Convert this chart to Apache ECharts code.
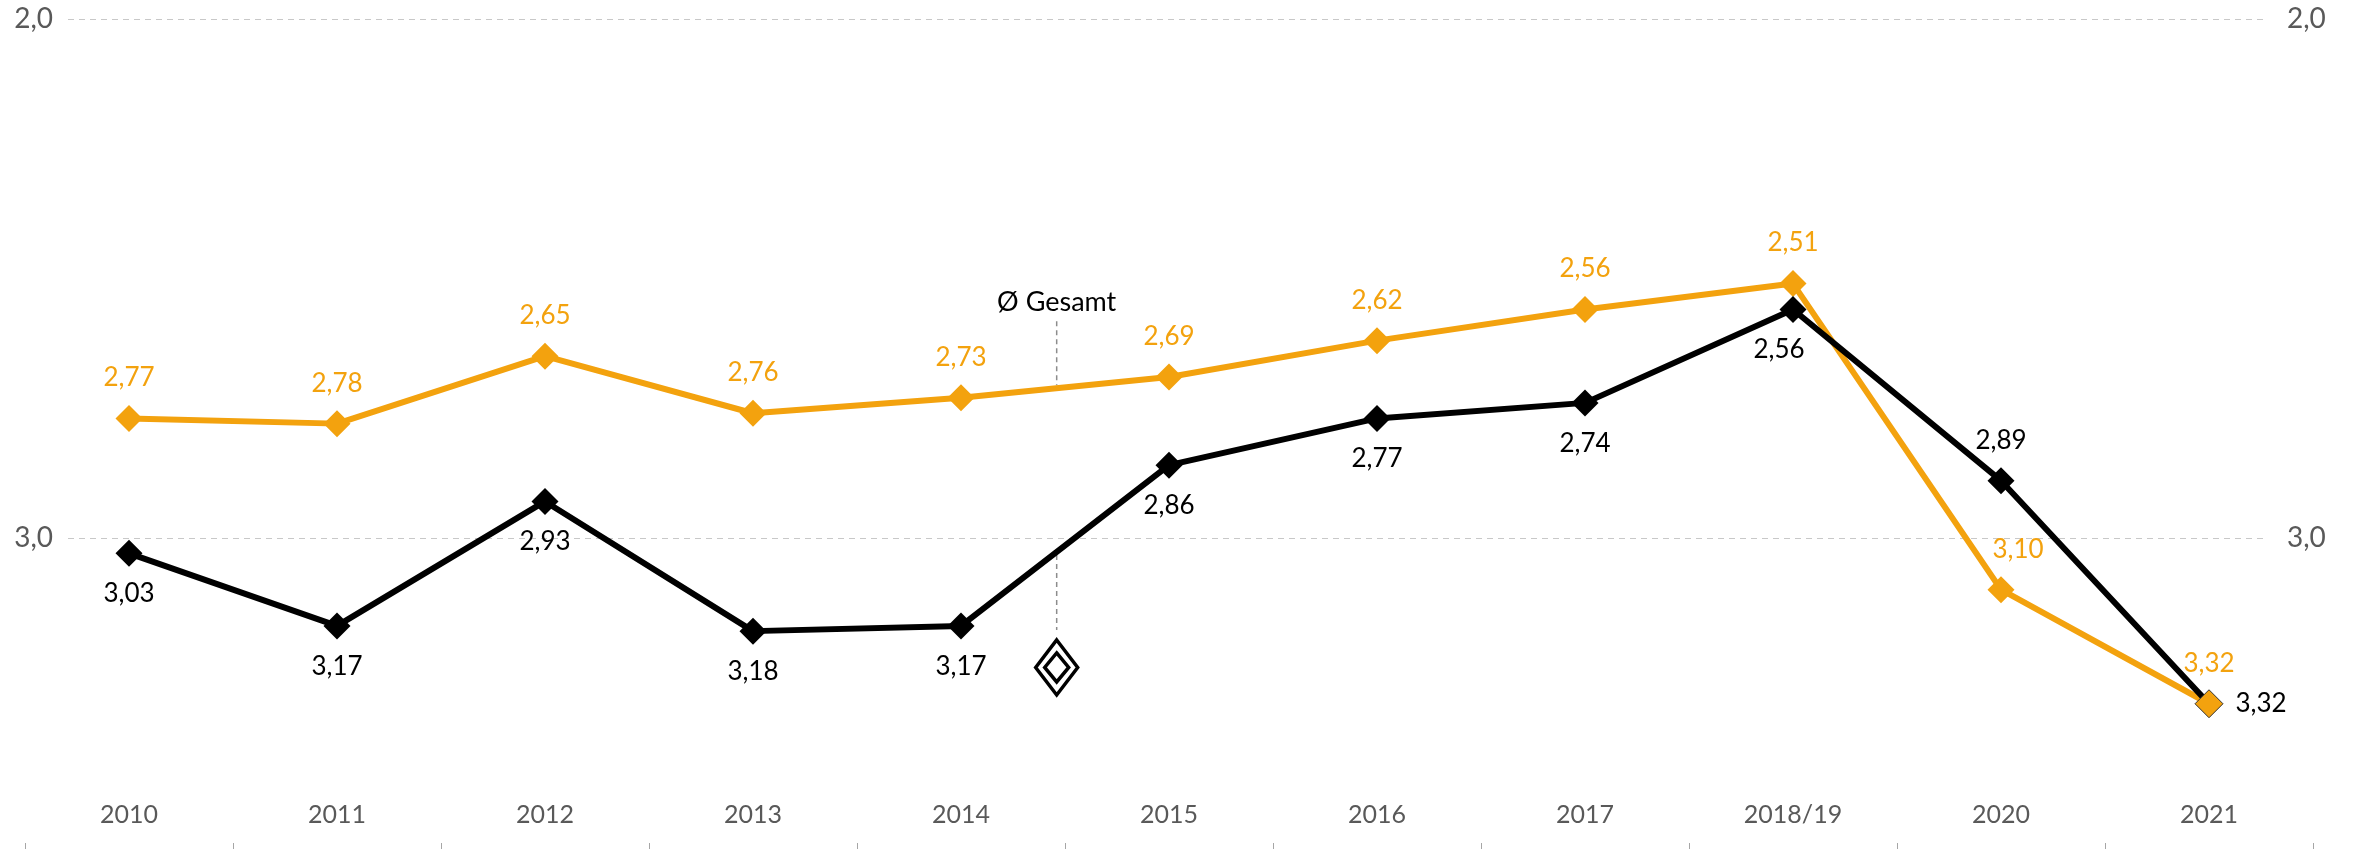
<!DOCTYPE html>
<html>
<head>
<meta charset="utf-8">
<script src="https://cdn.jsdelivr.net/npm/echarts@6/dist/echarts.min.js"></script>
<style>
  html, body { margin: 0; padding: 0; background: #fff; }
  #chart { width: 2361px; height: 850px; }
</style>
</head>
<body>
<div id="chart"></div>
<script>
// School grades (lower is better), shown on an inverted scale
const years = ['2010', '2011', '2012', '2013', '2014', '2015', '2016', '2017', '2018/19', '2020', '2021'];
const gesamt = [2.77, 2.78, 2.65, 2.76, 2.73, 2.69, 2.62, 2.56, 2.51, 3.10, 3.32];
const renault = [3.03, 3.17, 2.93, 3.18, 3.17, 2.86, 2.77, 2.74, 2.56, 2.89, 3.32];
const yTicks = [2, 3];

const ORANGE = '#F3A20E';
const FONT = 'Lato, "Open Sans", sans-serif';
const fmt = v => v.toFixed(2).replace('.', ',');

const chart = echarts.init(document.getElementById('chart'), null, { renderer: 'canvas' });

// per-point label placement for the black series
const renaultData = renault.map((v, i) => {
  const d = { value: v };
  if (years[i] === '2018/19') d.label = { offset: [-14, 0] };
  if (years[i] === '2020') d.label = { position: 'top' };
  if (years[i] === '2021') d.label = { position: 'right', distance: 13 };
  return d;
});
const gesamtData = gesamt.map((v, i) => {
  const d = { value: v };
  if (years[i] === '2020') d.label = { offset: [17, 0] };
  return d;
});
// last orange marker sits above the black line end
const gesamtLast = gesamt.map((v, i) => (i === gesamt.length - 1 ? v : null));

const yLabel = v => (yTicks.indexOf(v) >= 0 ? v.toFixed(1).replace('.', ',') : '');

chart.setOption({
  animation: false,
  backgroundColor: '#ffffff',
  grid: [
    { left: 25, right: 48, top: 19, bottom: 1 },
    { left: 68, right: 93, top: 19, bottom: 1 }
  ],
  xAxis: [
    {
      type: 'category', gridIndex: 0, data: years, boundaryGap: true,
      axisLine: { show: false },
      axisTick: { show: true, inside: true, length: 6, lineStyle: { color: '#a6a6a6', width: 1 } },
      axisLabel: { inside: true, margin: 22, color: '#595959', fontSize: 25, fontFamily: FONT },
      splitLine: { show: false }
    },
    { type: 'value', gridIndex: 1, show: false, min: 0, max: 1 }
  ],
  yAxis: [
    { type: 'value', gridIndex: 0, min: 2, max: 3.6, inverse: true, show: false },
    {
      type: 'value', gridIndex: 1, position: 'left', min: 2, max: 3.6, interval: 1, inverse: true,
      axisLine: { show: false }, axisTick: { show: false },
      axisLabel: { margin: 15, color: '#595959', fontSize: 28, fontFamily: FONT, formatter: yLabel, showMaxLabel: false },
      splitLine: { show: true, showMaxLine: false, lineStyle: { color: '#c8c8c8', type: [6, 5], width: 1 } }
    },
    {
      type: 'value', gridIndex: 1, position: 'right', min: 2, max: 3.6, interval: 1, inverse: true,
      axisLine: { show: false }, axisTick: { show: false },
      axisLabel: { margin: 19, color: '#595959', fontSize: 28, fontFamily: FONT, formatter: yLabel, showMaxLabel: false },
      splitLine: { show: false }
    }
  ],
  series: [
    {
      name: 'Ø Gesamt', type: 'line', xAxisIndex: 0, yAxisIndex: 0, z: 2,
      data: gesamtData,
      symbol: 'diamond', symbolSize: 27,
      lineStyle: { color: ORANGE, width: 6 },
      itemStyle: { color: ORANGE },
      label: { show: true, position: 'top', distance: 14, color: ORANGE, fontSize: 26, fontFamily: FONT, formatter: p => fmt(p.value) }
    },
    {
      name: 'Renault', type: 'line', xAxisIndex: 0, yAxisIndex: 0, z: 3,
      data: renaultData,
      symbol: 'diamond', symbolSize: 27,
      lineStyle: { color: '#000000', width: 6 },
      itemStyle: { color: '#000000' },
      label: { show: true, position: 'bottom', distance: 14, color: '#000000', fontSize: 26, fontFamily: FONT, formatter: p => fmt(p.value) }
    },
    {
      name: 'Ø Gesamt 2021', type: 'scatter', xAxisIndex: 0, yAxisIndex: 0, z: 4,
      data: gesamtLast,
      symbol: 'diamond', symbolSize: 28,
      itemStyle: { color: ORANGE, opacity: 1, borderColor: '#3a3a3a', borderWidth: 1 },
      label: { show: false }
    }
  ]
});

// series annotations: "Ø Gesamt" caption and the brand mark, each tied to its line
function annotate() {
  const f = 0.46;
  const a0 = chart.convertToPixel({ gridIndex: 0 }, [4, gesamt[4]]);
  const a1 = chart.convertToPixel({ gridIndex: 0 }, [5, gesamt[5]]);
  const b0 = chart.convertToPixel({ gridIndex: 0 }, [4, renault[4]]);
  const b1 = chart.convertToPixel({ gridIndex: 0 }, [5, renault[5]]);
  const x = a0[0] + (a1[0] - a0[0]) * f;
  const yO = a0[1] + (a1[1] - a0[1]) * f;
  const yB = b0[1] + (b1[1] - b0[1]) * f;

  const dash = { stroke: '#8c8c8c', lineWidth: 1.5, lineDash: [5, 4] };
  const top = yO - 67;
  const logoTop = yB + 88;
  const logoH = 55, logoW = 42;
  const cy = logoTop + logoH / 2;

  chart.setOption({
    graphic: [
      { type: 'text', x: x, y: top - 19, style: { text: 'Ø Gesamt', fill: '#000', font: '27px ' + FONT, textAlign: 'center', textVerticalAlign: 'middle' } },
      { type: 'line', shape: { x1: x, y1: top, x2: x, y2: yO - 3 }, style: dash, z: 1 },
      { type: 'line', shape: { x1: x, y1: yB + 3, x2: x, y2: logoTop - 10 }, style: dash, z: 1 },
      // brand mark: two nested rhombus outlines
      { type: 'polygon', shape: { points: [[x, logoTop], [x + logoW / 2, cy], [x, logoTop + logoH], [x - logoW / 2, cy]] },
        style: { fill: 'none', stroke: '#000', lineWidth: 3.5 } },
      { type: 'polygon', shape: { points: [[x, logoTop + 13], [x + logoW / 2 - 9, cy], [x, logoTop + logoH - 13], [x - logoW / 2 + 9, cy]] },
        style: { fill: 'none', stroke: '#000', lineWidth: 3.5 } }
    ]
  });
}
annotate();
</script>
</body>
</html>
